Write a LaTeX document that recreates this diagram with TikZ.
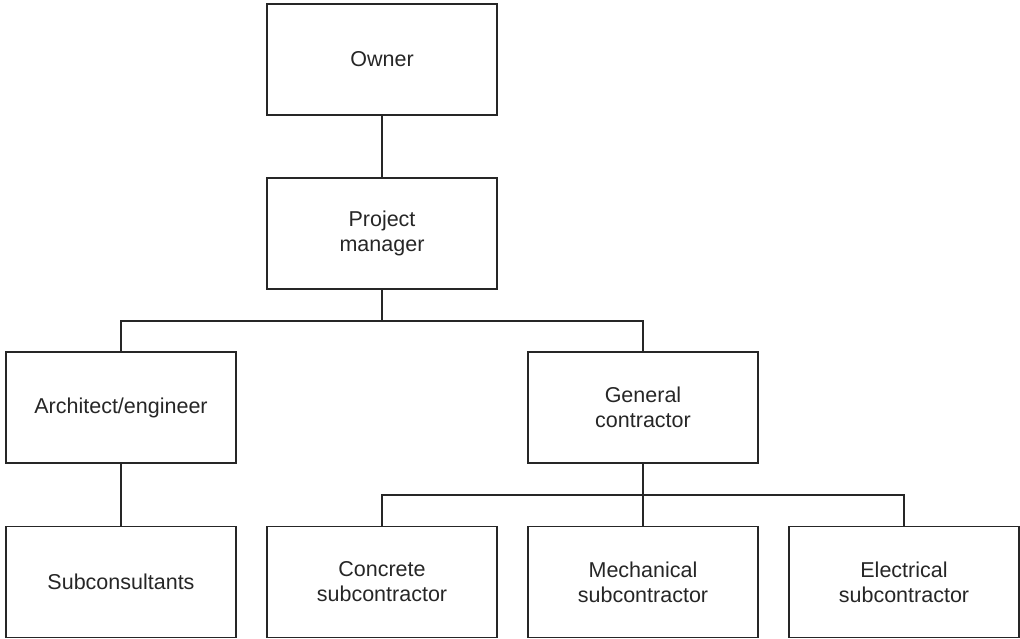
\documentclass[tikz,border=0pt]{standalone}
\usepackage{fontspec}
\setmainfont{Liberation Sans}
\begin{document}
\begin{tikzpicture}[x=1pt,y=-1pt,
  orgbox/.style={draw=black!85, line width=1.2pt, minimum width=230pt, minimum height=111pt,
    inner sep=0pt, align=center, font=\fontsize{21.5}{25}\selectfont, text=black!85},
  link/.style={draw=black!85, line width=1.2pt}]
\useasboundingbox (0,0) rectangle (1020,639);
\node[orgbox] (owner) at (382,59.5) {Owner};
\node[orgbox] (pm) at (382,233.5) {Project\\manager};
\node[orgbox] (ae) at (121,407.5) {Architect/engineer};
\node[orgbox] (gc) at (643,407.5) {General\\contractor};
\node[orgbox] (sub) at (121,582) {Subconsultants};
\node[orgbox] (conc) at (382,582) {Concrete\\subcontractor};
\node[orgbox] (mech) at (643,582) {Mechanical\\subcontractor};
\node[orgbox] (elec) at (904,582) {Electrical\\subcontractor};
\coordinate (pmbus) at (382,321);
\coordinate (gcbus) at (643,495);
\draw[link] (owner.south) -- (pm.north);
\draw[link] (pm.south) -- (pmbus);
\draw[link] (ae.north) |- (pmbus) -| (gc.north);
\draw[link] (ae.south) -- (sub.north);
\draw[link] (gc.south) -- (gcbus);
\draw[link] (conc.north) |- (gcbus) -| (elec.north);
\draw[link] (gcbus) -- (mech.north);
\end{tikzpicture}
\end{document}
